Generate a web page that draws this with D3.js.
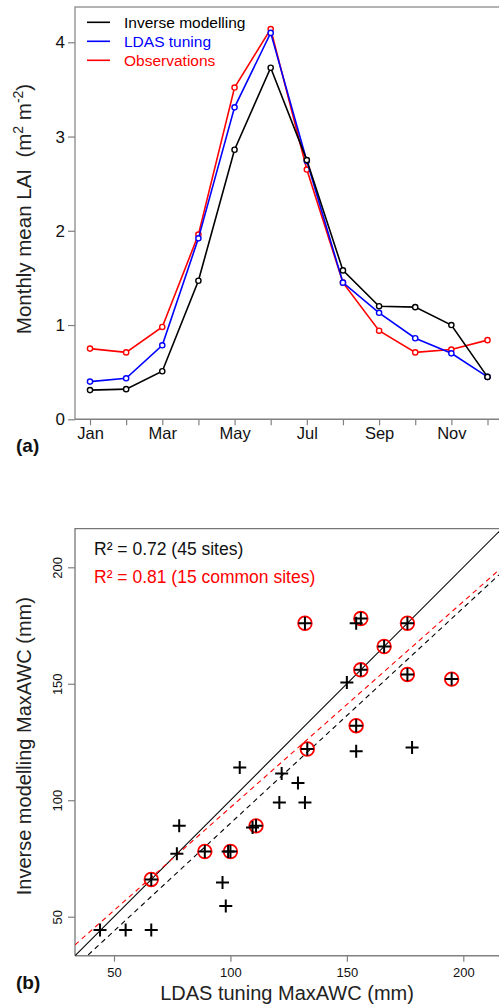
<!DOCTYPE html>
<html>
<head>
<meta charset="utf-8">
<script src="https://cdn.jsdelivr.net/npm/d3@7"></script>
<style>
  html, body { margin: 0; padding: 0; background: #fff; }
  svg { display: block; font-family: "Liberation Sans", Arial, sans-serif; }
</style>
</head>
<body>
<svg id="chart" width="500" height="1006"></svg>
<script>
// ---------- Panel (a) data ----------
const months = ["Jan","Feb","Mar","Apr","May","Jun","Jul","Aug","Sep","Oct","Nov","Dec"];
const monthLabels = ["Jan","Mar","May","Jul","Sep","Nov"];
const inverseModelling = [0.31,0.32,0.51,1.47,2.86,3.73,2.75,1.58,1.20,1.19,1.00,0.45];
const ldasTuning      = [0.40,0.435,0.785,1.92,3.31,4.10,2.74,1.45,1.13,0.86,0.70,0.45];
const observations    = [0.75,0.71,0.98,1.96,3.52,4.14,2.65,1.45,0.94,0.71,0.74,0.84];
const laiTicks = [0,1,2,3,4];
const seriesNames = ["Inverse modelling","LDAS tuning","Observations"];
const seriesColors = ["#000000","#0000ff","#ff0000"];

// ---------- Panel (b) data ----------
// all sites (black +): [LDAS tuning, Inverse modelling]
const allSitesX = [132,156,154,176,166,156,176,195,154,133,111,109.5,89,100,99,66,150,154,178,122,129,104,121,132,78,77,96.6,98,44,55,66];
const allSitesY = [176,178,176,176,166,156,154,152,132,122,89,88.3,78,78,78,66,150.5,121,122.6,111.5,107.4,114,99,99,89,77,64.7,54.6,44.3,44.3,44.3];
// common sites (red circles)
const commonX = [132,156,176,166,156,176,195,154,133,111,89,100,66];
const commonY = [176,178,176,166,156,154,152,132,122,89,78,78,66];
const awcTicks = [50,100,150,200];
const fitAll = [0.925, -2.4];      // slope, intercept (black dashed)
const fitCommon = [0.884, 8.5];    // slope, intercept (red dashed)
const statLabels = ["R² = 0.72 (45 sites)","R² = 0.81 (15 common sites)"];

const svg = d3.select("#chart");
const axisCol = "#808080";

// ================= Panel (a) =================
const A = {l:75, r:499, t:7, b:419.3};
const xA = d3.scaleLinear().domain([0,11]).range([90, 487.5]);
const yA = d3.scaleLinear().domain([0,4]).range([A.b, 42.3]);

const gA = svg.append("g");
gA.append("path")
  .attr("d", `M${A.l},${A.b}V${A.t}H${A.r}`)
  .attr("fill","none").attr("stroke","#999").attr("stroke-width",1.5);

// x axis
const axA = d3.axisBottom(xA).tickValues(d3.range(12)).tickSize(6)
  .tickFormat(i => monthLabels.includes(months[i]) ? months[i] : "");
const gxA = gA.append("g").attr("transform",`translate(0,${A.b})`).call(axA);
gxA.select(".domain").attr("d",`M${A.l},0H${A.r}`).attr("stroke",axisCol).attr("stroke-width",1.5);
gxA.selectAll(".tick line").attr("stroke",axisCol).attr("stroke-width",1.2);
gxA.selectAll(".tick text").attr("font-size",16.5).attr("fill","#111").attr("dy",null).attr("y",20)
  .attr("font-family","Liberation Sans, Arial, sans-serif");

// y axis
const ayA = d3.axisLeft(yA).tickValues(laiTicks).tickSize(7).tickFormat(d3.format("d"));
const gyA = gA.append("g").attr("transform",`translate(${A.l},0)`).call(ayA);
gyA.select(".domain").remove();
gyA.selectAll(".tick line").attr("stroke",axisCol).attr("stroke-width",1.2);
gyA.selectAll(".tick text").attr("font-size",17).attr("fill","#111").attr("x",-10)
  .attr("font-family","Liberation Sans, Arial, sans-serif");

// lines
const seriesA = [inverseModelling, ldasTuning, observations];
const lineA = d3.line().x((d,i)=>xA(i)).y(d=>yA(d));
[2,1,0].forEach(k => {
  gA.append("path").datum(seriesA[k]).attr("d",lineA)
    .attr("fill","none").attr("stroke",seriesColors[k]).attr("stroke-width",1.6);
  gA.selectAll(null).data(seriesA[k]).enter().append("circle")
    .attr("cx",(d,i)=>xA(i)).attr("cy",d=>yA(d)).attr("r",2.6)
    .attr("fill","#fff").attr("stroke",seriesColors[k]).attr("stroke-width",1.4);
});

// legend
seriesNames.forEach((n,i) => {
  const y = 22.3 + i*19;
  gA.append("line").attr("x1",87).attr("x2",110).attr("y1",y).attr("y2",y)
    .attr("stroke",seriesColors[i]).attr("stroke-width",1.6);
  gA.append("text").attr("x",124).attr("y",y+5.5).attr("font-size",15.5)
    .attr("fill",seriesColors[i]).text(n);
});

// y label
const ylA = gA.append("text").attr("transform","translate(31,209) rotate(-90)")
  .attr("text-anchor","middle").attr("font-size",20.5).attr("fill","#222");
ylA.append("tspan").text("Monthly mean LAI\u00a0\u00a0(m");
ylA.append("tspan").attr("baseline-shift","super").attr("font-size",14).text("2");
ylA.append("tspan").text(" m");
ylA.append("tspan").attr("baseline-shift","super").attr("font-size",14).text("-2");
ylA.append("tspan").text(")");

gA.append("text").attr("x",16).attr("y",452).attr("font-size",19).attr("font-weight","bold")
  .attr("fill","#111").text("(a)");

// ================= Panel (b) =================
const B = {l:75, r:499, t:528.7, b:955.7};
const xB = d3.scaleLinear().domain([50,200]).range([114, 463.3]);
const yB = d3.scaleLinear().domain([50,200]).range([916.7, 567.3]);

const gB = svg.append("g");
svg.append("defs").append("clipPath").attr("id","clipB").append("rect")
  .attr("x",B.l).attr("y",B.t).attr("width",B.r-B.l).attr("height",B.b-B.t);

gB.append("path")
  .attr("d", `M${B.l},${B.b}V${B.t}H${B.r}`)
  .attr("fill","none").attr("stroke","#777").attr("stroke-width",1.3);

const axB = d3.axisBottom(xB).tickValues(awcTicks).tickSize(6);
const gxB = gB.append("g").attr("transform",`translate(0,${B.b})`).call(axB);
gxB.select(".domain").attr("d",`M${B.l},0H${B.r}`).attr("stroke",axisCol).attr("stroke-width",1.5);
gxB.selectAll(".tick line").attr("stroke",axisCol).attr("stroke-width",1.2);
gxB.selectAll(".tick text").attr("font-size",13).attr("fill","#111").attr("dy",null).attr("y",21)
  .attr("font-family","Liberation Sans, Arial, sans-serif");

const ayB = d3.axisLeft(yB).tickValues(awcTicks).tickSize(7);
const gyB = gB.append("g").attr("transform",`translate(${B.l},0)`).call(ayB);
gyB.select(".domain").remove();
gyB.selectAll(".tick line").attr("stroke",axisCol).attr("stroke-width",1.2);
gyB.selectAll(".tick text").attr("font-size",13).attr("fill","#111")
  .attr("x",null).attr("dy",null).attr("text-anchor","middle")
  .attr("transform","translate(-13,0) rotate(-90)")
  .attr("font-family","Liberation Sans, Arial, sans-serif");

// lines
const gl = gB.append("g").attr("clip-path","url(#clipB)");
const xd = xB.invert(B.l), xe = xB.invert(B.r);
gl.append("line").attr("x1",xB(xd)).attr("y1",yB(xd)).attr("x2",xB(xe)).attr("y2",yB(xe))
  .attr("stroke","#000").attr("stroke-width",1.1);
gl.append("line").attr("x1",xB(xd)).attr("y1",yB(fitCommon[0]*xd+fitCommon[1]))
  .attr("x2",xB(xe)).attr("y2",yB(fitCommon[0]*xe+fitCommon[1]))
  .attr("stroke","#ff0000").attr("stroke-width",1.1).attr("stroke-dasharray","5,4");
gl.append("line").attr("x1",xB(xd)).attr("y1",yB(fitAll[0]*xd+fitAll[1]))
  .attr("x2",xB(xe)).attr("y2",yB(fitAll[0]*xe+fitAll[1]))
  .attr("stroke","#000").attr("stroke-width",1.1).attr("stroke-dasharray","5,4");

// red circles
gB.selectAll(null).data(commonX).enter().append("circle")
  .attr("cx",d=>xB(d)).attr("cy",(d,i)=>yB(commonY[i])).attr("r",6.8)
  .attr("fill","none").attr("stroke","#ff0000").attr("stroke-width",1.8);
// black pluses
const ps = 6.5;
gB.selectAll(null).data(allSitesX).enter().append("path")
  .attr("d",(d,i)=>{const x=xB(d), y=yB(allSitesY[i]);
    return `M${x-ps},${y}H${x+ps}M${x},${y-ps}V${y+ps}`;})
  .attr("stroke","#000").attr("stroke-width",2).attr("fill","none");

// stats text
gB.append("text").attr("x",94).attr("y",555).attr("font-size",17.5).attr("fill","#111").text(statLabels[0]);
gB.append("text").attr("x",94).attr("y",583).attr("font-size",17.5).attr("fill","#ff0000").text(statLabels[1]);

// axis titles
gB.append("text").attr("x",(B.l+B.r)/2).attr("y",1000).attr("text-anchor","middle")
  .attr("font-size",20).attr("fill","#222").text("LDAS tuning MaxAWC (mm)");
gB.append("text").attr("transform",`translate(31,${(B.t+B.b)/2 + 4}) rotate(-90)`)
  .attr("text-anchor","middle").attr("font-size",20).attr("fill","#222").text("Inverse modelling MaxAWC (mm)");

gB.append("text").attr("x",16).attr("y",989).attr("font-size",19).attr("font-weight","bold")
  .attr("fill","#111").text("(b)");
</script>
</body>
</html>
